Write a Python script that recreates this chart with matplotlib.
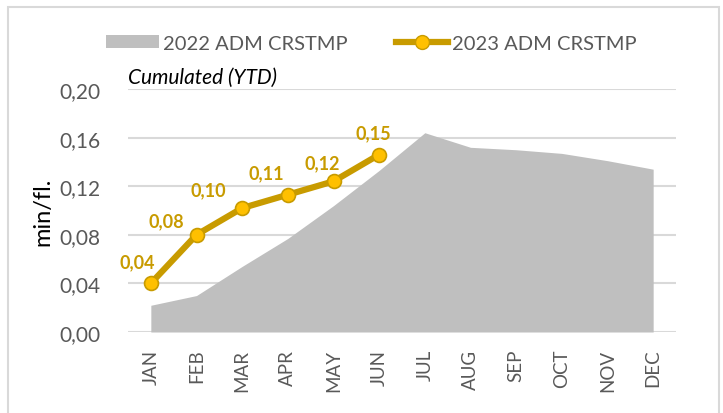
import numpy as np
import matplotlib.pyplot as plt
from matplotlib.patches import Rectangle, Patch
from matplotlib.lines import Line2D

plt.rcParams['font.family'] = ['Lato', 'DejaVu Sans']

months = ['JAN', 'FEB', 'MAR', 'APR', 'MAY', 'JUN', 'JUL', 'AUG', 'SEP', 'OCT', 'NOV', 'DEC']
cum_2022 = [0.022, 0.030, 0.054, 0.077, 0.104, 0.133, 0.164, 0.152, 0.150, 0.147, 0.141, 0.134]
cum_2023 = [0.040, 0.080, 0.102, 0.113, 0.124, 0.146]
labels_2023 = ['0,04', '0,08', '0,10', '0,11', '0,12', '0,15']
yticks = [0.00, 0.04, 0.08, 0.12, 0.16, 0.20]
ytick_labels = ['0,00', '0,04', '0,08', '0,12', '0,16', '0,20']

# label offsets in pixels (dx, dy) relative to each marker
label_offsets = [(-14, 22), (-30, 14), (-34, 18), (-22, 22), (-11, 19), (-6, 22)]

GOLD = '#C89B00'
FACE = '#FFC000'
GRAY = '#BFBFBF'
GRID = '#D9D9D9'
TXT = '#595959'

W, H = 723, 414
fig = plt.figure(figsize=(W / 100, H / 100), dpi=100)
ax = fig.add_axes([128 / W, 1 - 333 / H, (676 - 128) / W, (333 - 90) / H])

x = np.arange(len(months))
ax.fill_between(x, 0, cum_2022, color=GRAY, lw=0, zorder=2)
x23 = np.arange(len(cum_2023))
ax.plot(x23, cum_2023, color=GOLD, lw=4.5, marker='o', ms=10,
        mfc=FACE, mec=GOLD, mew=1.2, zorder=4, solid_capstyle='round')

for i, (v, lab) in enumerate(zip(cum_2023, labels_2023)):
    dx, dy = label_offsets[i]
    ax.annotate(lab, (i, v), xytext=(dx * 0.72, dy * 0.72), textcoords='offset points',
                ha='center', va='center', color=GOLD, fontsize=13, fontweight='bold', zorder=5)

ax.set_xlim(-0.5, 11.5)
ax.set_ylim(0, 0.2)
ax.set_yticks(yticks)
ax.set_yticklabels(ytick_labels)
ax.set_xticks(x)
ax.set_xticklabels(months, rotation=90)
ax.tick_params(axis='both', length=0, colors=TXT)
ax.tick_params(axis='y', labelsize=15, pad=20)
ax.tick_params(axis='x', labelsize=13.5, pad=12)
for s in ax.spines.values():
    s.set_visible(False)
ax.grid(axis='y', color=GRID, lw=1.5, zorder=1)
ax.set_axisbelow(True)
ax.set_ylabel('min/fl.', fontsize=17, color='black', labelpad=4)

ax.text(0, 1.01, 'Cumulated (YTD)', transform=ax.transAxes, fontsize=15,
        style='italic', color='black', ha='left', va='bottom')

handles = [Patch(facecolor=GRAY, edgecolor='none'),
           Line2D([0], [0], color=GOLD, lw=4.5, marker='o', ms=10, mfc=FACE, mec=GOLD)]
fig.legend(handles, ['2022 ADM CRSTMP', '2023 ADM CRSTMP'], ncol=2, loc='center',
           bbox_to_anchor=(0.514, 1 - 44 / H), frameon=False, fontsize=14.5,
           labelcolor=TXT, handlelength=2.6, handleheight=0.6, handletextpad=0.2,
           columnspacing=2.4)

fig.patches.append(Rectangle((8 / W, -0.05), (719 - 8) / W, 1 - 8 / H + 0.05,
                             transform=fig.transFigure, fill=False, edgecolor=GRID, lw=1.5))

fig.savefig('out.png', dpi=100)
